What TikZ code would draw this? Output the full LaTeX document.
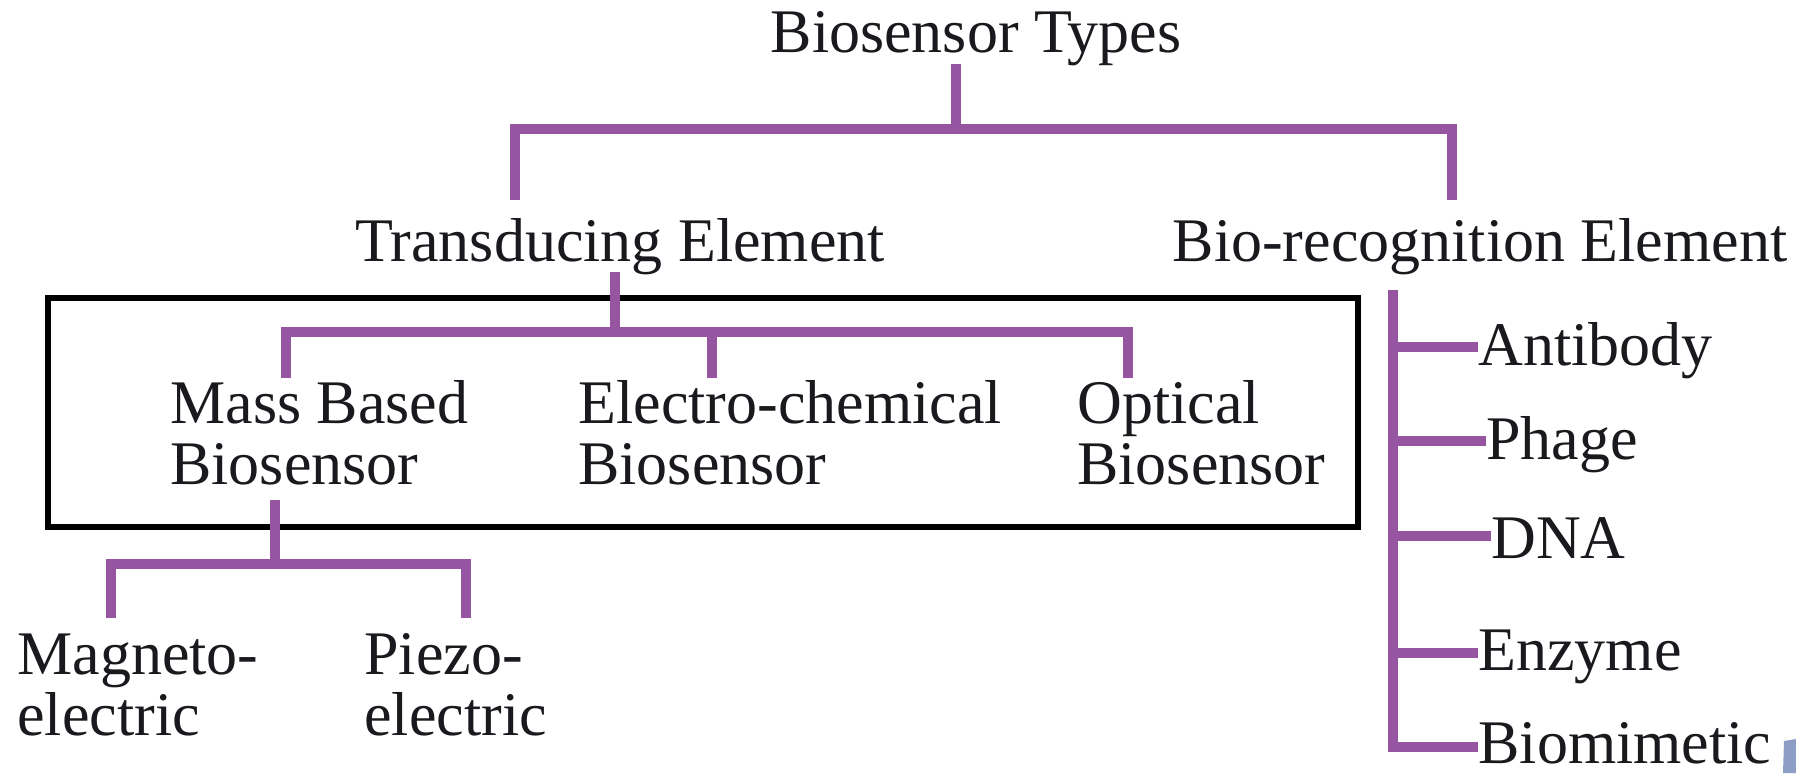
\documentclass[tikz,border=0pt]{standalone}
\usepackage{fontspec}
\setmainfont{Liberation Serif}
\definecolor{brcol}{RGB}{150,85,160}
\definecolor{txtcol}{RGB}{25,25,30}
\definecolor{markcol}{RGB}{140,158,196}
\begin{document}
\begin{tikzpicture}[x=0.5pt,y=-0.5pt,
  br/.style={draw=brcol, line width=5pt},
  lbl/.style={inner sep=0pt, font=\fontsize{31}{30.5}\selectfont, text=txtcol, align=left},
  frame/.style={draw=black, line width=3pt}]
\useasboundingbox (0,0) rectangle (1796,773);
\fill[white] (0,0) rectangle (1796,773);
% nodes
\node[lbl] (root) at (976,39) {Biosensor Types};
\node[lbl] (trans) at (620,247) {Transducing Element};
\node[lbl] (bio) at (1480,247) {Bio-recognition Element};
\node[lbl,anchor=west] (mass) at (170,433) {Mass Based\\Biosensor};
\node[lbl,anchor=west] (elec) at (578,433) {Electro-chemical\\Biosensor};
\node[lbl,anchor=west] (opt) at (1077,433) {Optical\\Biosensor};
\node[lbl,anchor=west] (mag) at (17,685) {Magneto-\\electric};
\node[lbl,anchor=west] (piezo) at (364,685) {Piezo-\\electric};
\node[lbl,anchor=west] (anti) at (1478,351) {Antibody};
\node[lbl,anchor=west] (phage) at (1486,445) {Phage};
\node[lbl,anchor=west] (dna) at (1491,538) {DNA};
\node[lbl,anchor=west] (enz) at (1478,657) {Enzyme};
\node[lbl,anchor=west] (bmim) at (1478,743) {Biomimetic};
% joints
\coordinate (r1) at (956,64);
\coordinate (r2) at (956,129);
\coordinate (tl) at (515,200);
\coordinate (tr) at (1452,200);
\coordinate (t1) at (615,272);
\coordinate (t2) at (615,332);
\coordinate (m1) at (286,378);
\coordinate (e1) at (712,378);
\coordinate (o1) at (1128,378);
\coordinate (ms1) at (275,500);
\coordinate (ms2) at (275,564);
\coordinate (g1) at (111,618);
\coordinate (p1) at (466,618);
\coordinate (bv1) at (1393,290);
\coordinate (bv2) at (1393,747);
% frame
\draw[frame] (48,298) rectangle (1358,527);
% connectors
\draw[br] (r1) -- (r2);
\draw[br] (tl) -- (tl |- r2) -- (tr |- r2) -- (tr);
\draw[br] (t1) -- (t2);
\draw[br] (m1) -- (m1 |- t2) -- (o1 |- t2) -- (o1);
\draw[br] (e1) -- (e1 |- t2);
\draw[br] (ms1) -- (ms2);
\draw[br] (g1) -- (g1 |- ms2) -- (p1 |- ms2) -- (p1);
\draw[br] (bv1) -- (bv2) -- (bmim.west |- bv2);
\draw[br] (bv1 |- 0,347) -- (anti.west |- 0,347);
\draw[br] (bv1 |- 0,441) -- (phage.west |- 0,441);
\draw[br] (bv1 |- 0,536) -- (dna.west |- 0,536);
\draw[br] (bv1 |- 0,653) -- (enz.west |- 0,653);
% corner mark
\fill[markcol] (1784,741) -- (1796,739) -- (1796,773) -- (1783,773) -- cycle;
\end{tikzpicture}
\end{document}
